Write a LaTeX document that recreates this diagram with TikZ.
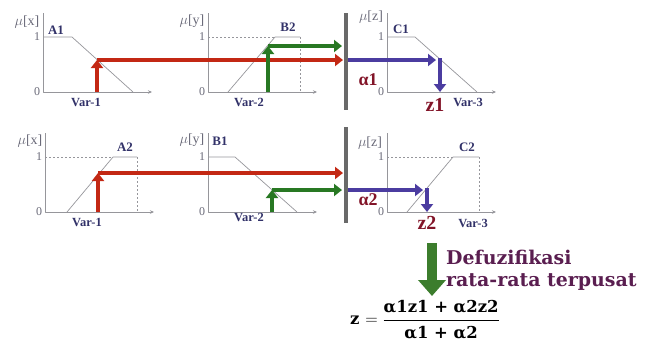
\documentclass[tikz,border=0pt]{standalone}
\usepackage{amsmath}
\usepackage{fontspec}
\setmainfont{Liberation Serif}
\newfontfamily\deffont{DejaVu Serif}
\usetikzlibrary{arrows.meta}
\definecolor{axgray}{RGB}{150,150,155}
\definecolor{txtgray}{RGB}{105,105,120}
\definecolor{navy}{RGB}{50,50,105}
\definecolor{hitred}{RGB}{195,40,20}
\definecolor{hitgreen}{RGB}{40,120,35}
\definecolor{hitblue}{RGB}{75,60,160}
\definecolor{alred}{RGB}{130,20,40}
\definecolor{bargray}{RGB}{105,105,105}
\definecolor{defpurple}{RGB}{90,30,80}
\definecolor{biggreen}{RGB}{60,125,45}
\begin{document}
\begin{tikzpicture}[x=1bp,y=-1bp,line join=round,
    axis/.style={draw=axgray,line width=.7bp},
    mf/.style={draw=axgray,line width=.7bp},
    guide/.style={draw=axgray,line width=.6bp,dash pattern=on 2bp off 2bp},
    hit/.style={line width=4bp,-{Triangle[length=8bp,width=12bp]}},
    bar/.style={draw=bargray,line width=4bp},
    tick/.style={font=\fontsize{12}{12}\selectfont,text=txtgray,inner sep=0pt},
    mu/.style={font=\fontsize{14}{14}\selectfont,text=txtgray,inner sep=0pt},
    tag/.style={font=\fontsize{13}{13}\selectfont\bfseries,text=navy,inner sep=0pt},
    var/.style={font=\fontsize{12.5}{12.5}\selectfont\bfseries,text=navy,inner sep=0pt},
    res/.style={font=\fontsize{20}{20}\selectfont\bfseries,text=alred,inner sep=0pt},
    defz/.style={anchor=west,inner sep=0pt,text=defpurple,font=\deffont\bfseries\fontsize{19}{19}\selectfont}]
\useasboundingbox (0,0) rectangle (647,349);
% axes of the six panels
\foreach \x/\y/\n in {43/92/a,208/92/b,387/92/c,45/212/d,208/212/e,387/212/f}{
  \draw[axis,-{Stealth[length=4bp,width=3.5bp]}] (\x,\y-79) -- (\x,\y) -- (\x+109,\y);
  \node[tick] (one\n) at (\x-6,\y-55) {1};
  \node[tick] (zero\n) at (\x-6,\y) {0};
}
% membership functions
\draw[mf] (43,37) -- (72,37) -- (133,92);
\draw[mf] (228,92) -- (275,37) -- (300,37);
\draw[guide] (208,37) -- (275,37) (300,37) -- (300,92);
\draw[mf] (387,37) -- (415,37) -- (477,92);
\draw[mf] (67,212) -- (113,157) -- (137,157);
\draw[guide] (45,157) -- (113,157) (137,157) -- (137,212);
\draw[mf] (208,157) -- (235,157) -- (297,212);
\draw[mf] (407,212) -- (453,157) -- (479,157);
\draw[guide] (387,157) -- (453,157) (479,157) -- (479,212);
% rule cut-off bars
\path
  (346,13) coordinate (bt1) (346,110) coordinate (bb1)
  (346,127) coordinate (bt2) (346,223) coordinate (bb2);
\draw[bar] (bt1) -- (bb1);
\draw[bar] (bt2) -- (bb2);
% firing strengths
\path
  (97,92) coordinate (r1s) (97,60) coordinate (r1t) (343,60) coordinate (r1e)
  (268,92) coordinate (g1s) (268,46) coordinate (g1t) (342,46) coordinate (g1e)
  (348,60) coordinate (u1s) (436,60) coordinate (u1t)
  (440,58) coordinate (v1s) (440,92) coordinate (v1t)
  (98,212) coordinate (r2s) (98,173) coordinate (r2t) (343,173) coordinate (r2e)
  (272,212) coordinate (g2s) (272,190) coordinate (g2t) (342,190) coordinate (g2e)
  (348,190) coordinate (u2s) (423,190) coordinate (u2t)
  (427,188) coordinate (v2s) (427,212) coordinate (v2t);
\draw[hit,hitred] (r1s) -- (r1t);
\draw[hit,hitred] (r1t) -- (r1e);
\draw[hit,hitgreen] (g1s) -- (g1t);
\draw[hit,hitgreen] (g1t) -- (g1e);
\draw[hit,hitblue] (u1s) -- (u1t);
\draw[hit,hitblue] (v1s) -- (v1t);
\draw[hit,hitred] (r2s) -- (r2t);
\draw[hit,hitred] (r2t) -- (r2e);
\draw[hit,hitgreen] (g2s) -- (g2t);
\draw[hit,hitgreen] (g2t) -- (g2e);
\draw[hit,hitblue] (u2s) -- (u2t);
\draw[hit,hitblue] (v2s) -- (v2t);
% labels
\foreach \n/\p/\t in {mxa/{27,22}/x,mya/{192,21}/y,mza/{371,17}/z,mxd/{30,141}/x,myd/{192,140}/y,mzf/{370,143}/z}
  \node[mu] (\n) at (\p) {$\mu$[\t]};
\foreach \n/\p/\t in {la1/{56,30}/A1,lb2/{288,27}/B2,lc1/{401,29}/C1,la2/{125,147}/A2,lb1/{220,141}/B1,lc2/{467,147}/C2}
  \node[tag] (\n) at (\p) {\t};
\foreach \n/\p/\t in {v1a/{86,102}/Var-1,v2a/{249,102}/Var-2,v3a/{468,102}/Var-3,v1b/{87,222}/Var-1,v2b/{249,217}/Var-2,v3b/{473,223}/Var-3}
  \node[var] (\n) at (\p) {\t};
\node[res,font=\fontsize{18}{18}\selectfont\bfseries] (al1) at (368,80) {α1};
\node[res,font=\fontsize{18}{18}\selectfont\bfseries] (al2) at (368,200) {α2};
\node[res] (z1) at (435,105) {z1};
\node[res] (z2) at (427,223) {z2};
% defuzzification
\path (432,243) coordinate (ds) (432,296) coordinate (de);
\draw[draw=biggreen,line width=10bp,-{Triangle[length=16bp,width=27bp]}] (ds) -- (de);
\node[defz] (dfz) at (446,257) {Defuzifikasi};
\node[defz] (rrt) at (446,282) {rata-rata terpusat};
\node[inner sep=0pt,font=\deffont\bfseries\fontsize{16.5}{16.5}\selectfont] (zf) at (425,320)
  {z $=\dfrac{\text{\deffont\bfseries α1z1 + α2z2}\rule[-4bp]{0pt}{4bp}}{\rule{0pt}{16bp}\text{\deffont\bfseries α1 + α2}}$};
\end{tikzpicture}
\end{document}
